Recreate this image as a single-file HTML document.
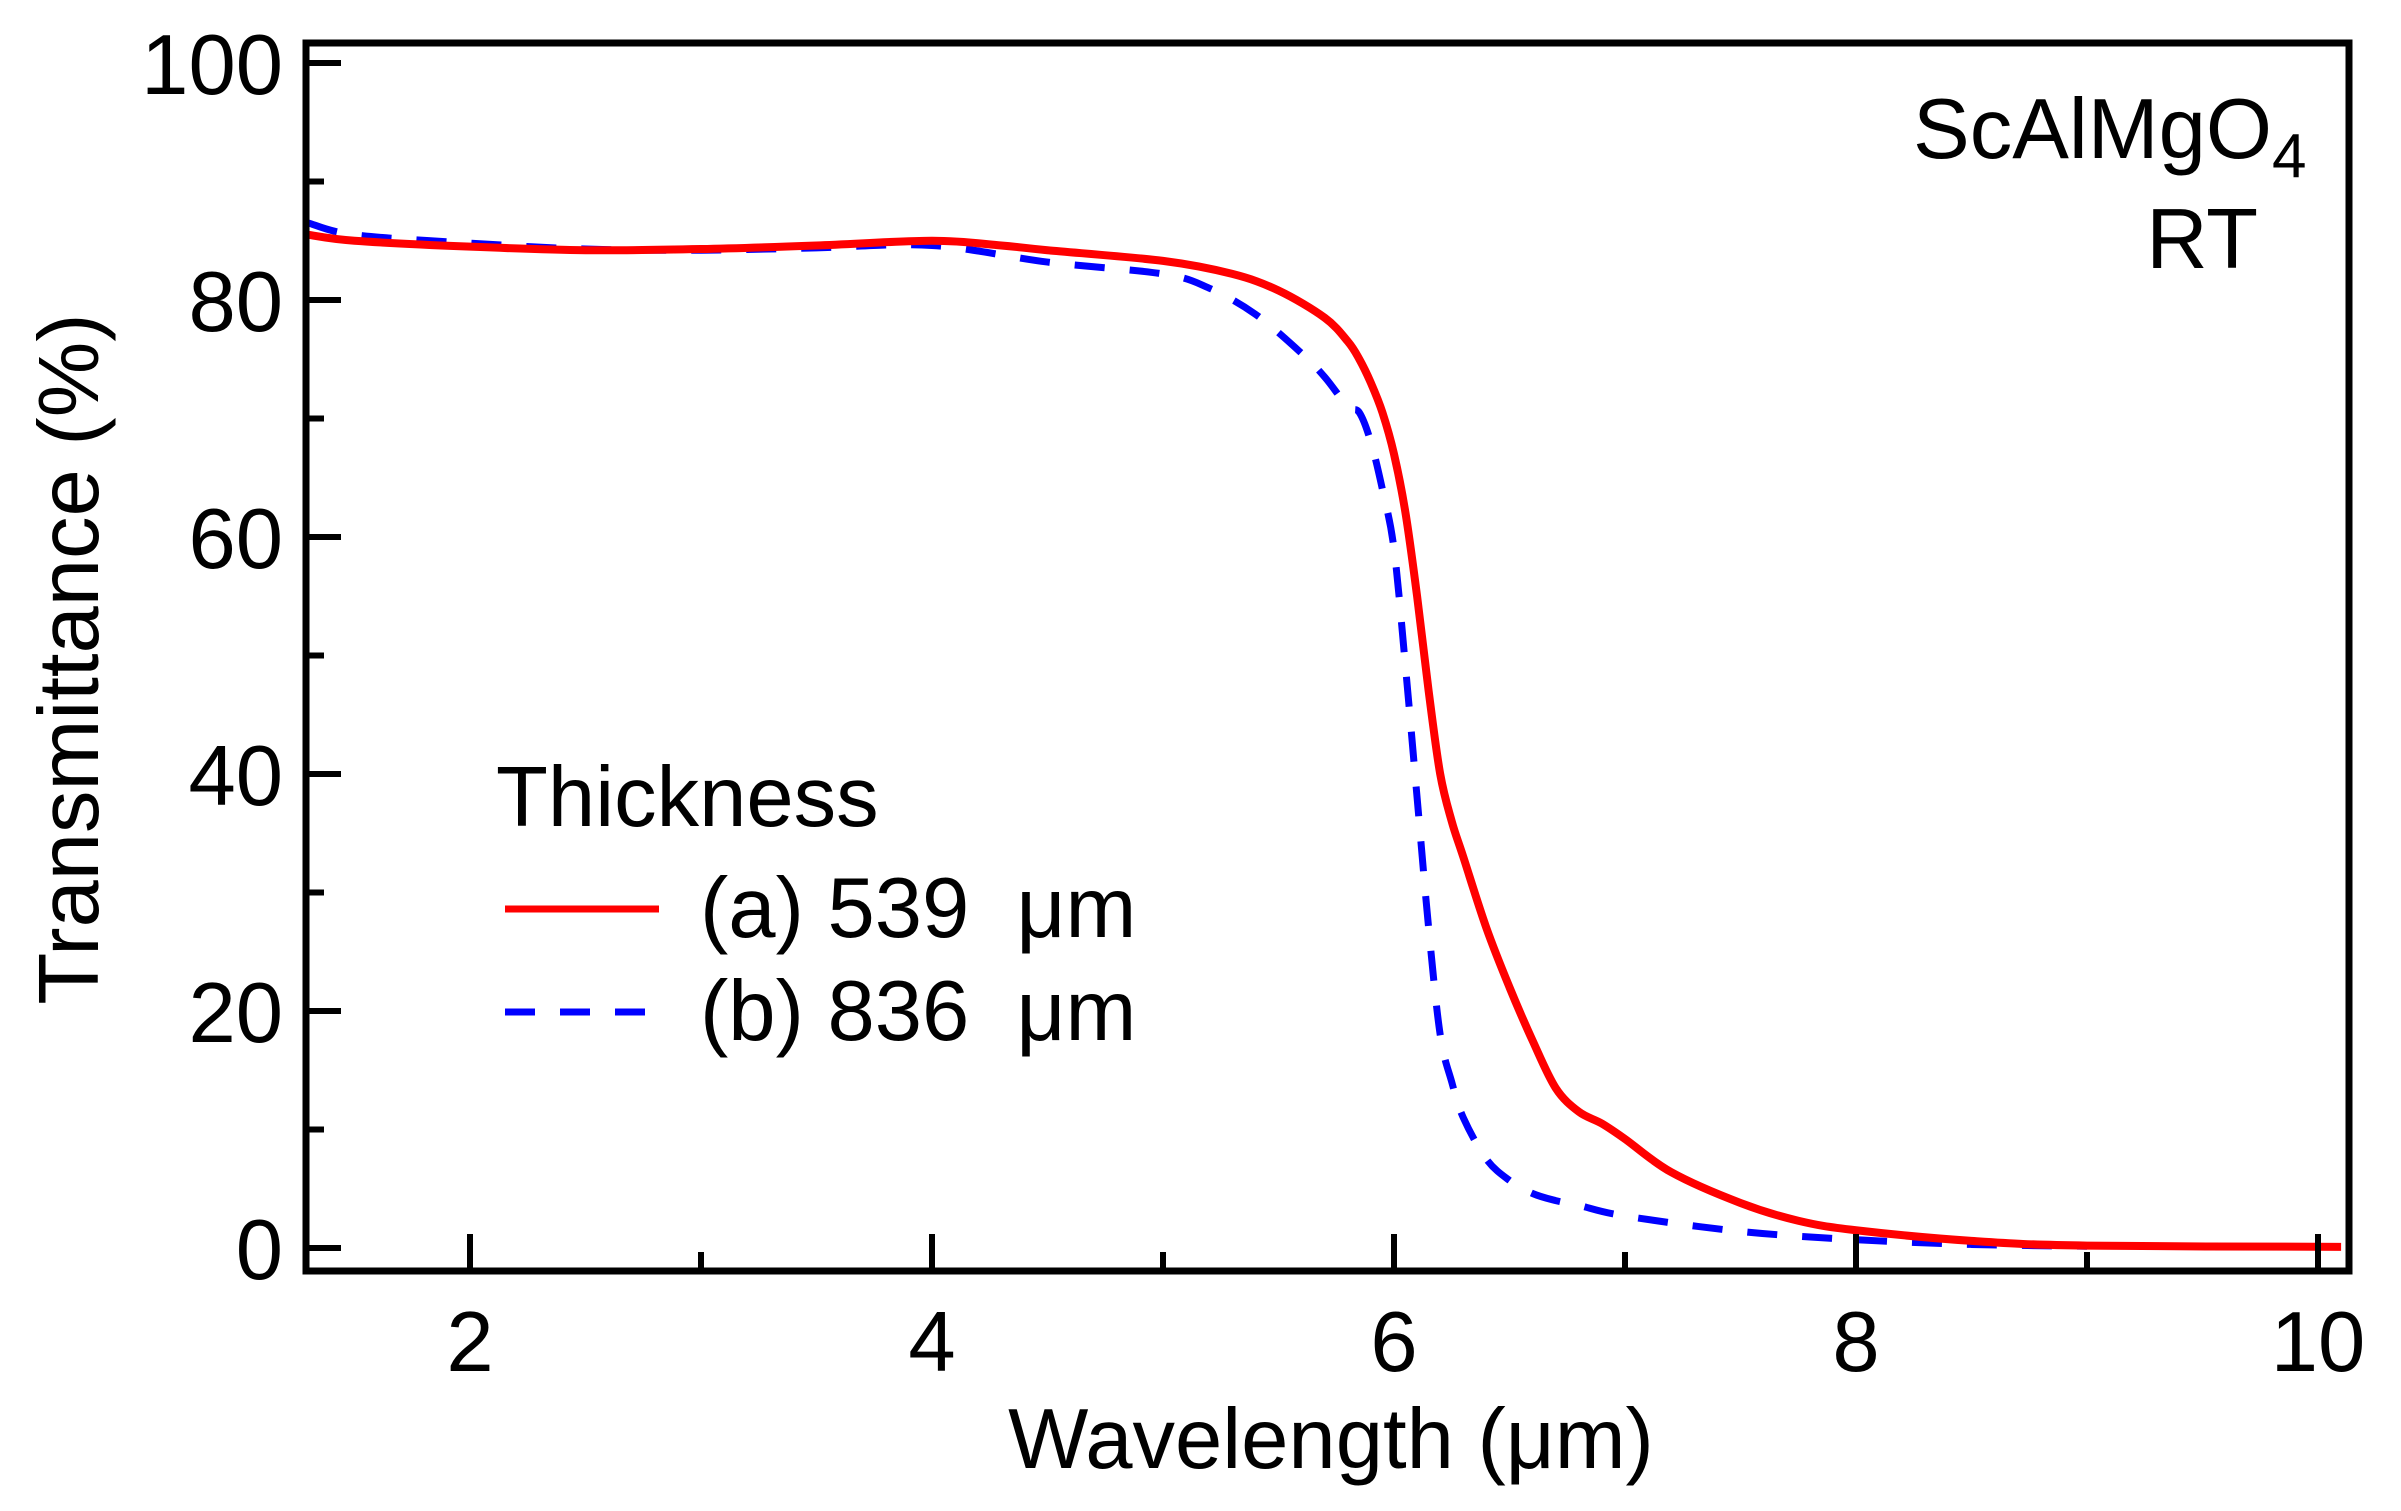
<!DOCTYPE html>
<html><head><meta charset="utf-8"><style>
html,body{margin:0;padding:0;background:#fff}
svg{display:block}
text{font-family:"Liberation Sans",Arial,sans-serif;fill:#000}
</style></head><body>
<svg id="chart" width="2401" height="1511" viewBox="0 0 2401 1511" xmlns="http://www.w3.org/2000/svg">
<g id="plot"></g>
<g id="axes"></g>
<text x="1331" y="1468" font-size="85" text-anchor="middle">Wavelength (μm)</text>
<text x="0" y="0" font-size="85" text-anchor="middle" transform="translate(98,659) rotate(-90)">Transmittance (%)</text>
<text x="1913" y="158" font-size="85">ScAlMgO<tspan font-size="62" dy="19">4</tspan></text>
<text x="2258" y="268" font-size="85" text-anchor="end">RT</text>
<g>
<text x="496" y="826" font-size="85">Thickness</text>
<line x1="505" y1="909" x2="659" y2="909" stroke="#ff0000" stroke-width="7"/>
<text x="700" y="937" font-size="85">(a) 539&#160; μm</text>
<line x1="505" y1="1012" x2="659" y2="1012" stroke="#0000ff" stroke-width="7" stroke-dasharray="30 25"/>
<text x="700" y="1040" font-size="85">(b) 836&#160; μm</text>
</g>
</svg>
<script>
const xTicks = [2, 4, 6, 8, 10];
const xMinor = [3, 5, 7, 9];
const yTicks = [0, 20, 40, 60, 80, 100];
const yMinor = [10, 30, 50, 70, 90];
const redX = [1.3,1.5,2,2.5,3,3.5,4,4.3,4.5,5,5.3,5.5,5.7,5.8,5.85,5.9,5.95,6.0,6.05,6.1,6.15,6.2,6.25,6.3,6.4,6.5,6.6,6.7,6.8,6.9,7.0,7.2,7.5,7.75,8,8.5,9,10.1];
const redY = [85.5,85,84.5,84.2,84.3,84.6,85,84.6,84.2,83.3,82.2,80.8,78.5,76.5,75,73,70.5,67,62,55,47,40,36,33,27,22,17.5,13.5,11.5,10.5,9.2,6.4,3.8,2.3,1.5,0.6,0.2,0.1];
const blueX = [1.3,1.5,2,2.5,3,3.5,4,4.5,5,5.2,5.4,5.6,5.7,5.8,5.85,5.9,5.95,6.0,6.05,6.1,6.15,6.2,6.25,6.3,6.4,6.5,6.6,6.7,6.8,7.0,7.5,8,8.5,9];
const blueY = [86.5,85.5,84.8,84.3,84.2,84.4,84.6,83.2,82.2,81,78.8,75.5,73.5,71,70.5,68,64,59,49,38,27,18,14,11,7.5,5.7,4.6,4.0,3.6,2.7,1.4,0.7,0.3,0.15];

const L=306,R=2349,T=43,B=1271;
const sx=v=>470+(v-2)*231;
const sy=v=>1248-v*11.85;
const NS='http://www.w3.org/2000/svg';
function mk(tag,parent){const e=document.createElementNS(NS,tag);parent.appendChild(e);return e;}
function path(xs,ys){
  const p=xs.map((x,i)=>[sx(x),sy(ys[i])]);
  let d='M'+p[0][0]+','+p[0][1];
  for(let i=0;i<p.length-1;i++){
    const p0=p[Math.max(0,i-1)],p1=p[i],p2=p[i+1],p3=p[Math.min(p.length-1,i+2)];
    const c1=[p1[0]+(p2[0]-p0[0])/6,p1[1]+(p2[1]-p0[1])/6];
    const c2=[p2[0]-(p3[0]-p1[0])/6,p2[1]-(p3[1]-p1[1])/6];
    d+=' C'+c1[0]+','+c1[1]+' '+c2[0]+','+c2[1]+' '+p2[0]+','+p2[1];
  }
  return d;
}
const plot=document.getElementById('plot');
const bl=mk('path',plot);


bl.setAttribute('d',path(blueX,blueY));
bl.setAttribute('fill','none');bl.setAttribute('stroke','#0000ff');bl.setAttribute('stroke-width','7');bl.setAttribute('stroke-dasharray','30 25');
const rl=mk('path',plot);


rl.setAttribute('d',path(redX,redY));
rl.setAttribute('fill','none');rl.setAttribute('stroke','#ff0000');rl.setAttribute('stroke-width','8');

const ax=document.getElementById('axes');
const fr=mk('rect',ax);


fr.setAttribute('x',L);fr.setAttribute('y',T);fr.setAttribute('width',R-L);fr.setAttribute('height',B-T);
fr.setAttribute('fill','none');fr.setAttribute('stroke','#000');fr.setAttribute('stroke-width','7');
function tick(x1,y1,x2,y2,name){const t=mk('line',ax);
  
  
  t.setAttribute('x1',x1);t.setAttribute('y1',y1);t.setAttribute('x2',x2);t.setAttribute('y2',y2);
  t.setAttribute('stroke','#000');t.setAttribute('stroke-width','6');}
xTicks.forEach(v=>{tick(sx(v),B,sx(v),B-37,'x-tick');
  const t=mk('text',ax);
  
  
  t.setAttribute('x',sx(v));t.setAttribute('y',1371);t.setAttribute('font-size','85');t.setAttribute('text-anchor','middle');t.textContent=v;});
xMinor.forEach(v=>tick(sx(v),B,sx(v),B-19,'x-minor-tick'));
yTicks.forEach(v=>{tick(L,sy(v),L+35,sy(v),'y-tick');
  const t=mk('text',ax);
  
  
  t.setAttribute('x',283);t.setAttribute('y',sy(v)+31);t.setAttribute('font-size','85');t.setAttribute('text-anchor','end');t.textContent=v;});
yMinor.forEach(v=>tick(L,sy(v),L+18,sy(v),'y-minor-tick'));
</script>
</body></html>
